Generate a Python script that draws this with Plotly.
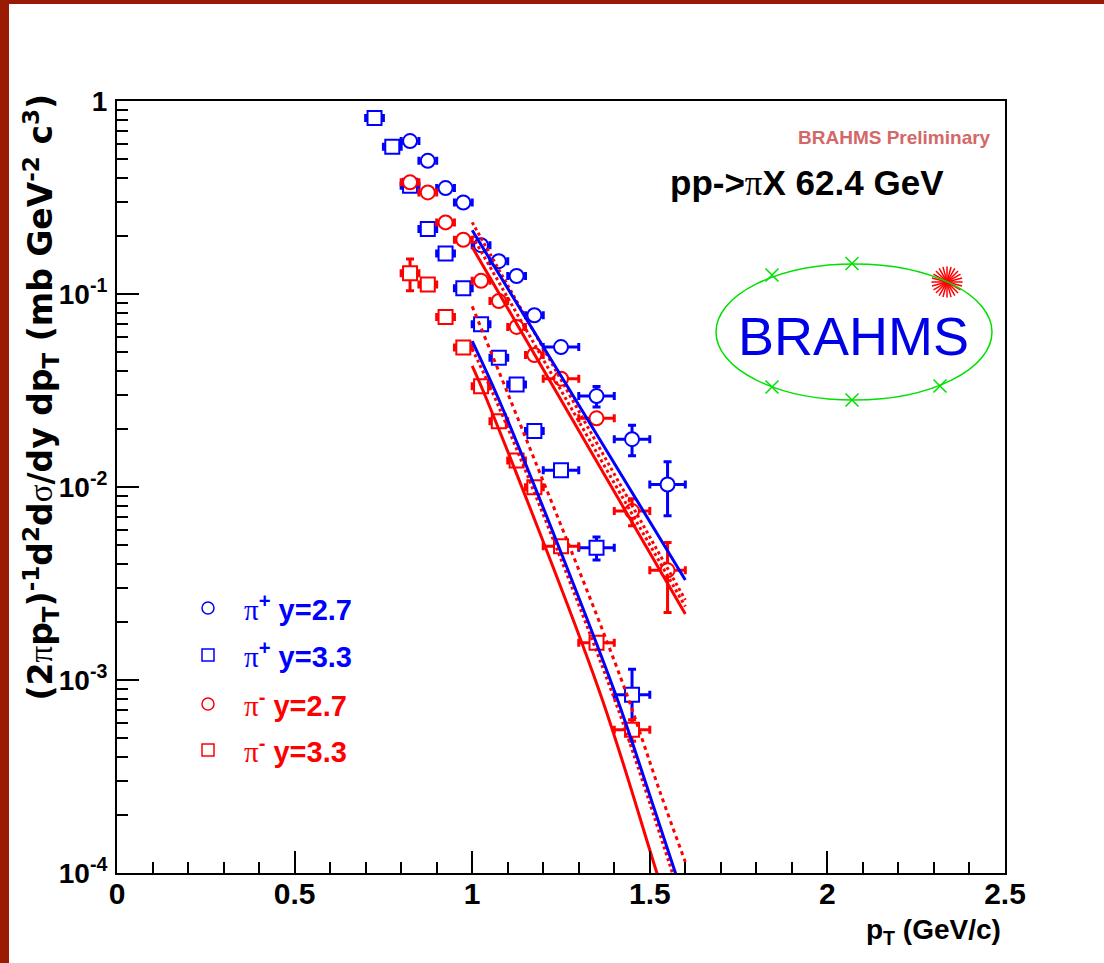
import plotly.graph_objects as go

# ---------------- data ----------------
# pi+ y=2.7 (blue circles)
pip27_pt = [0.825, 0.875, 0.925, 0.975, 1.025, 1.075, 1.125, 1.175, 1.25, 1.35, 1.45, 1.55]
pip27_y = [0.620, 0.490, 0.354, 0.298, 0.179, 0.148, 0.124, 0.0776, 0.0531, 0.0296, 0.0177, 0.0103]
pip27_ey = [0.015, 0.012, 0.009, 0.008, 0.005, 0.004, 0.004, 0.003, 0.003, 0.0036, 0.0032, 0.0032]
pip27_ex = [0.025, 0.025, 0.025, 0.025, 0.025, 0.025, 0.025, 0.025, 0.05, 0.05, 0.05, 0.05]

# pi+ y=3.3 (blue squares)
pip33_pt = [0.725, 0.775, 0.825, 0.875, 0.925, 0.975, 1.025, 1.075, 1.125, 1.175, 1.25, 1.35, 1.45]
pip33_y = [0.816, 0.579, 0.364, 0.217, 0.162, 0.107, 0.0697, 0.0468, 0.034, 0.0195, 0.0122, 0.00484, 0.000838]
pip33_ey = [0.02, 0.015, 0.01, 0.006, 0.005, 0.003, 0.002, 0.0015, 0.001, 0.0007, 0.0005, 0.00066, 0.0003]
pip33_ex = [0.025, 0.025, 0.025, 0.025, 0.025, 0.025, 0.025, 0.025, 0.025, 0.025, 0.05, 0.05, 0.05]

# pi- y=2.7 (red circles)
pim27_pt = [0.825, 0.875, 0.925, 0.975, 1.025, 1.075, 1.125, 1.175, 1.25, 1.35, 1.45, 1.55]
pim27_y = [0.379, 0.336, 0.235, 0.191, 0.117, 0.092, 0.0675, 0.0483, 0.0364, 0.0227, 0.0075, 0.0037]
pim27_ey = [0.01, 0.008, 0.006, 0.005, 0.003, 0.003, 0.002, 0.0015, 0.0012, 0.0012, 0.0012, 0.00146]
pim27_ex = [0.025, 0.025, 0.025, 0.025, 0.025, 0.025, 0.025, 0.025, 0.05, 0.05, 0.05, 0.05]

# pi- y=3.3 (red squares)
pim33_pt = [0.825, 0.875, 0.925, 0.975, 1.025, 1.075, 1.125, 1.175, 1.25, 1.35, 1.45]
pim33_y = [0.128, 0.112, 0.0760, 0.0528, 0.0333, 0.0219, 0.0137, 0.00997, 0.00493, 0.00156, 0.000552]
pim33_ey = [0.024, 0.004, 0.002, 0.0015, 0.001, 0.0006, 0.0004, 0.0003, 0.00015, 0.00005, 0.00007]
pim33_ex = [0.025, 0.025, 0.025, 0.025, 0.025, 0.025, 0.025, 0.025, 0.05, 0.05, 0.05]

# fit curves
fit_pip27_pt = [1.0, 1.3, 1.6]
fit_pip27_y = [0.214, 0.0266, 0.0033]
fit_pim27_pt = [1.0, 1.6]
fit_pim27_y = [0.175, 0.0022]
fit_pim27b_pt = [1.0, 1.6]
fit_pim27b_y = [0.235, 0.0026]
fit_pim27c_pt = [1.0, 1.6]
fit_pim27c_y = [0.20, 0.0024]

fit_pip33_pt = [1.0, 1.075, 1.24, 1.4, 1.455, 1.6]
fit_pip33_y = [0.057, 0.0284, 0.0051, 0.00088, 0.00045, 0.00007]
fit_pim33_pt = [1.0, 1.041, 1.36, 1.52, 1.55]
fit_pim33_y = [0.0424, 0.0284, 0.000855, 0.0001, 0.000068]
fit_pim33b_pt = [1.0, 1.107, 1.417, 1.53, 1.6]
fit_pim33b_y = [0.0863, 0.0284, 0.00104, 0.000259, 0.000114]
fit_pim33c_pt = [1.0, 1.075, 1.24, 1.4, 1.455, 1.6]
fit_pim33c_y = [0.052, 0.026, 0.0047, 0.0008, 0.00041, 0.000062]

x_ticks = [0, 0.5, 1, 1.5, 2, 2.5]
x_ticklabels = ["0", "0.5", "1", "1.5", "2", "2.5"]
y_ticks = [1e-4, 1e-3, 1e-2, 1e-1, 1]
y_ticklabels = ["10<sup>-4</sup>", "10<sup>-3</sup>", "10<sup>-2</sup>", "10<sup>-1</sup>", "1"]

legend_labels = ["π|+| y=2.7", "π|+| y=3.3", "π|-| y=2.7", "π|-| y=3.3"]

# ---------------- layout geometry ----------------
W, H = 1104, 963
L, R, T, B = 117, 1005, 101, 873
BLUE = "#0000ff"
RED = "#ff0000"
FONT = "Liberation Sans, Arial, Helvetica, sans-serif"
WIDEFONT = "DejaVu Sans, Liberation Sans, sans-serif"
SERIF = "Liberation Serif"


def pxx(x):
    return (x - L) / (R - L)


def pxy(y):
    return (B - y) / (B - T)


def greek(ch):
    return "<span style=\"font-family:'%s';font-weight:normal\">%s</span>" % (SERIF, ch)


fig = go.Figure()


def add_data(x, y, ex, ey, color, symbol):
    fig.add_trace(go.Scatter(
        x=x, y=y, mode="markers",
        marker=dict(symbol=symbol, size=14, color="white", line=dict(color=color, width=2)),
        error_x=dict(type="data", array=ex, color=color, thickness=3, width=4),
        error_y=dict(type="data", array=ey, color=color, thickness=3, width=4),
        showlegend=False, cliponaxis=True))


add_data(pip27_pt, pip27_y, pip27_ex, pip27_ey, BLUE, "circle")
add_data(pip33_pt, pip33_y, pip33_ex, pip33_ey, BLUE, "square")
add_data(pim27_pt, pim27_y, pim27_ex, pim27_ey, RED, "circle")
add_data(pim33_pt, pim33_y, pim33_ex, pim33_ey, RED, "square")


def add_fit(x, y, color, dash):
    fig.add_trace(go.Scatter(x=x, y=y, mode="lines", line=dict(color=color, width=3, dash=dash, shape="spline"),
                             showlegend=False))


add_fit(fit_pim27_pt, fit_pim27_y, RED, "solid")
add_fit(fit_pim27b_pt, fit_pim27b_y, RED, "dot")
add_fit(fit_pim27c_pt, fit_pim27c_y, RED, "dot")
add_fit(fit_pim33_pt, fit_pim33_y, RED, "solid")
add_fit(fit_pim33c_pt, fit_pim33c_y, RED, "dot")
add_fit(fit_pim33b_pt, fit_pim33b_y, RED, "4px,4px")
add_fit(fit_pip27_pt, fit_pip27_y, BLUE, "solid")
add_fit(fit_pip33_pt, fit_pip33_y, BLUE, "solid")

# ---------- overlay (pixel-coordinate) decorations: legend markers & logo ----------
leg_y = [608, 655, 704, 750]
leg_sym = ["circle", "square", "circle", "square"]
leg_col = [BLUE, BLUE, RED, RED]
fig.add_trace(go.Scatter(
    x=[208] * 4, y=leg_y, mode="markers", xaxis="x2", yaxis="y2",
    marker=dict(symbol=leg_sym, size=12, color="white", line=dict(color=leg_col, width=1.5)),
    showlegend=False, cliponaxis=False, hoverinfo="skip"))

GREEN = "#00e000"
fig.add_trace(go.Scatter(
    x=[772, 852, 772, 852, 940], y=[275, 263.5, 387, 400, 386], mode="markers",
    xaxis="x2", yaxis="y2",
    marker=dict(symbol="x-thin-open", size=13, color=GREEN, line=dict(color=GREEN, width=1.5)),
    showlegend=False, cliponaxis=False, hoverinfo="skip"))
for ang in [0, 15, 30]:
    fig.add_trace(go.Scatter(
        x=[947], y=[282], mode="markers", xaxis="x2", yaxis="y2",
        marker=dict(symbol="asterisk-open", size=26, angle=ang, color=RED, line=dict(color=RED, width=1.5)),
        showlegend=False, cliponaxis=False, hoverinfo="skip"))
fig.add_trace(go.Scatter(
    x=[947], y=[282], mode="markers", xaxis="x2", yaxis="y2",
    marker=dict(symbol="circle", size=7, color=RED),
    showlegend=False, cliponaxis=False, hoverinfo="skip"))

shapes = [
    dict(type="circle", xref="x2", yref="y2", x0=716, x1=992, y0=264, y1=400,
         line=dict(color=GREEN, width=1.5)),
    dict(type="rect", xref="paper", yref="paper", x0=pxx(-5), x1=pxx(9), y0=pxy(975), y1=pxy(-5),
         fillcolor="#9a1a04", line=dict(width=0), layer="above"),
    dict(type="rect", xref="paper", yref="paper", x0=pxx(-5), x1=pxx(1110), y0=pxy(4), y1=pxy(-5),
         fillcolor="#9a1a04", line=dict(width=0), layer="above"),
]

annotations = [
    dict(text="<b>BRAHMS Preliminary</b>", x=pxx(993), y=pxy(138), xanchor="right", yanchor="middle",
         font=dict(family=FONT, size=19, color="#d46868")),
    dict(text="<b>pp-&gt;" + greek("π") + "X 62.4 GeV</b>", x=pxx(668), y=pxy(183), xanchor="left",
         yanchor="middle", font=dict(family=FONT, size=35, color="black")),
    dict(text="BRAHMS", x=pxx(853), y=pxy(336), xanchor="center", yanchor="middle",
         font=dict(family=FONT, size=54, color="#0000e6")),
    dict(text="<b>(2" + greek("π") + "p<sub>T</sub>)<sup>-1</sup>d<sup>2</sup>d" + greek("σ")
         + "/dy dp<sub>T</sub> (mb GeV<sup>-2</sup> c<sup>3</sup>)</b>",
         x=pxx(41), y=pxy(92), xanchor="center", yanchor="top", textangle=-90,
         font=dict(family=WIDEFONT, size=33, color="black")),
    dict(text="<b>p<sub>T</sub> (GeV/c)</b>", x=pxx(1003), y=pxy(931), xanchor="right", yanchor="middle",
         font=dict(family=FONT, size=28, color="black")),
]
for lab, yy, col in zip(legend_labels, leg_y, leg_col):
    g, s, rest = lab.split("|")
    annotations.append(dict(
        text="<b>" + greek(g) + "<sup>" + s + "</sup>" + rest + "</b>",
        x=pxx(242), y=pxy(yy), xanchor="left", yanchor="middle",
        font=dict(family=FONT, size=29, color=col)))
for a in annotations:
    a.update(xref="paper", yref="paper", showarrow=False)

x_minor = [i / 10 for i in range(26) if i % 5 != 0]
y_minor = [k * 10.0 ** d for d in range(-4, 0) for k in range(2, 10)]

fig.update_layout(
    width=W, height=H,
    margin=dict(l=L, r=W - R, t=T, b=H - B, pad=0),
    paper_bgcolor="white", plot_bgcolor="white",
    font=dict(family=FONT, color="black"),
    showlegend=False,
    xaxis=dict(range=[0, 2.5], showline=True, linecolor="black", linewidth=2, mirror=True,
               ticks="inside", ticklen=22, tickwidth=1.5, tickcolor="black",
               tickvals=x_ticks, ticktext=["<b>%s</b>" % t for t in x_ticklabels],
               tickfont=dict(family=FONT, size=30, color="black"), ticklabelstandoff=-7,
               minor=dict(ticks="inside", ticklen=11, tickwidth=1.5, tickcolor="black",
                          tickvals=x_minor, showgrid=False),
               showgrid=False, zeroline=False),
    yaxis=dict(type="log", range=[-4, 0], showline=True, linecolor="black", linewidth=2, mirror=True,
               ticks="inside", ticklen=22, tickwidth=1.5, tickcolor="black",
               tickvals=y_ticks, ticktext=["<b>%s</b>" % t for t in y_ticklabels],
               tickfont=dict(family=FONT, size=28, color="black"), ticklabelstandoff=2,
               minor=dict(ticks="inside", ticklen=11, tickwidth=1.5, tickcolor="black",
                          tickvals=y_minor, showgrid=False),
               showgrid=False, zeroline=False),
    xaxis2=dict(domain=[0, 1], range=[L, R], overlaying="x", anchor="y2", visible=False,
                fixedrange=True),
    yaxis2=dict(domain=[0, 1], range=[B, T], overlaying="y", anchor="x2", visible=False,
                fixedrange=True),
    shapes=shapes,
    annotations=annotations,
)

fig.write_html("out.html")
